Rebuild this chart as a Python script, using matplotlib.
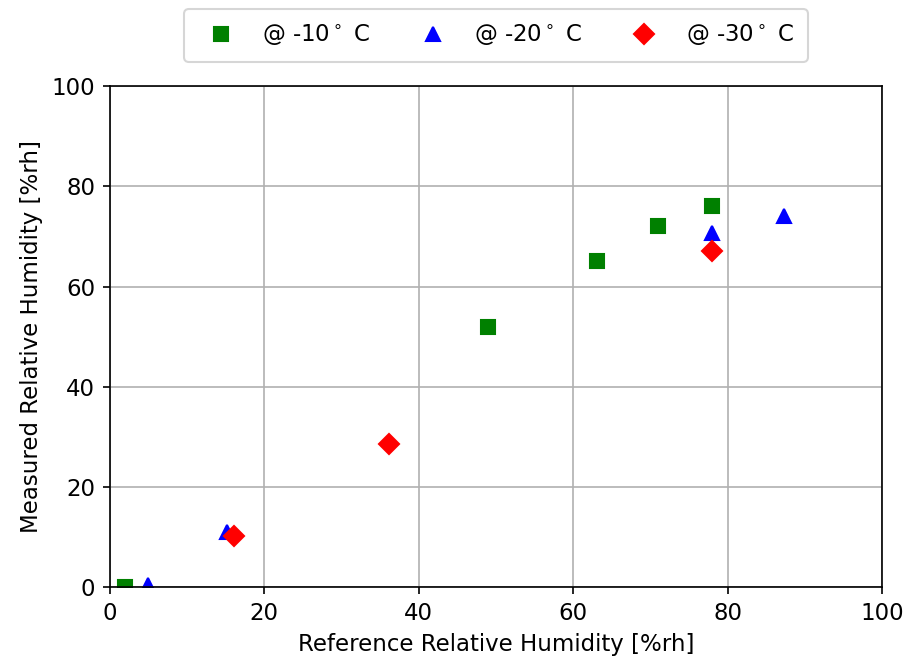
import numpy as np
import matplotlib.pyplot as plt

# datos
ref_10 = [2, 49, 63, 71, 78]
med_10 = [0, 52, 65, 72, 76]

ref_20 = [5, 15.2, 78, 87.3]
med_20 = [0.4, 11, 70.7, 74]

ref_30 = [16.1, 36.1, 78]
med_30 = [10.3, 28.5, 67]

plt.rcParams["font.size"] = 11

fig = plt.figure(figsize=(906 / 150, 662 / 150), dpi=150)
ax = fig.add_axes([0.121, 0.113, 0.853, 0.757])

ax.plot(ref_10, med_10, "s", color="green", markersize=7, label=r"@ -10$^\circ$ C")
ax.plot(ref_20, med_20, "^", color="blue", markersize=7, label=r"@ -20$^\circ$ C")
ax.plot(ref_30, med_30, "D", color="red", markersize=7, label=r"@ -30$^\circ$ C")

ax.set_xlim(0, 100)
ax.set_ylim(0, 100)
ax.set_xlabel("Reference Relative Humidity [%rh]")
ax.set_ylabel("Measured Relative Humidity [%rh]")
ax.grid(True)
ax.legend(loc="lower center", bbox_to_anchor=(0.5, 1.025), ncol=3,
          borderpad=0.6, columnspacing=1.7)

fig.savefig("out.png", dpi=150)
